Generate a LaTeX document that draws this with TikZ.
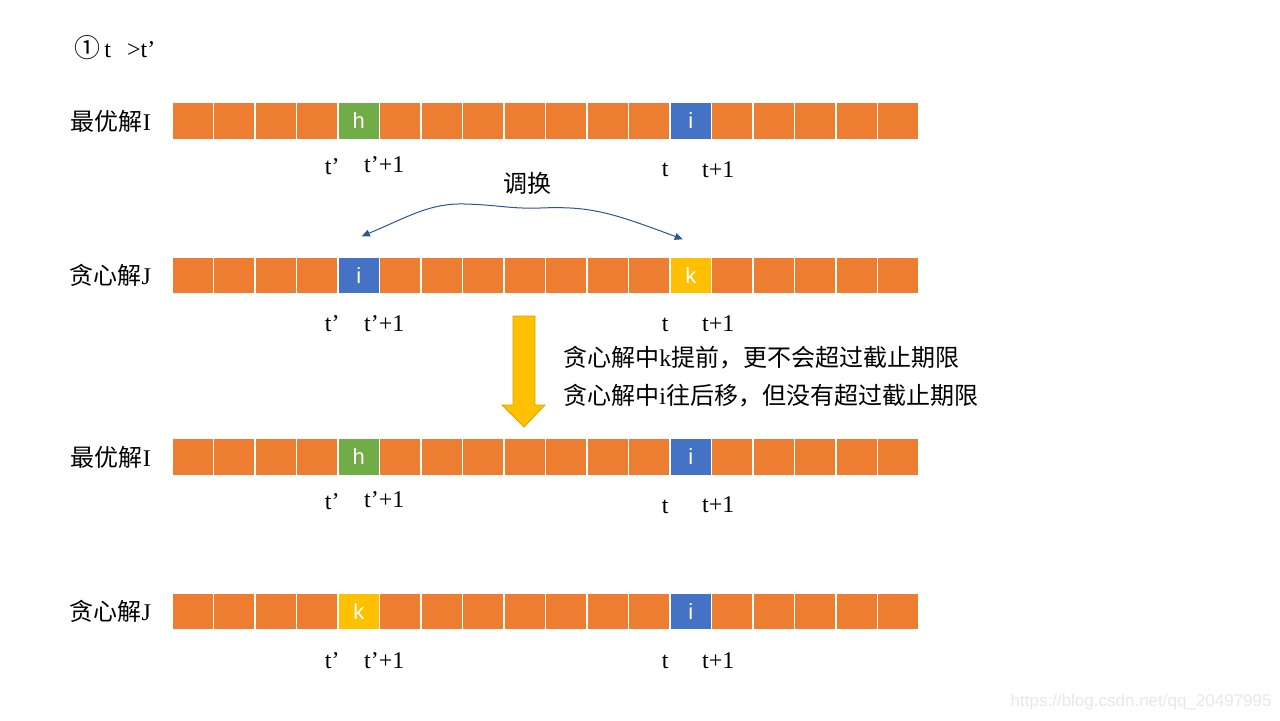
\documentclass[tikz,border=0pt]{standalone}
\usepackage{fontspec}
\setmainfont{Liberation Serif}
\newfontfamily\cjk{Noto Sans CJK SC}
\newfontfamily\cellfont{Liberation Sans}
\usetikzlibrary{arrows.meta, positioning}
\definecolor{slotorange}{RGB}{237, 125, 49}
\definecolor{slotgreen}{RGB}{112, 173, 71}
\definecolor{slotblue}{RGB}{68, 114, 196}
\definecolor{slotgold}{RGB}{255, 192, 0}
\definecolor{swapblue}{RGB}{47, 85, 151}

% one row of 18 slots: name, y, fill and text at t', fill and text at t
\newcommand{\slotrow}[6]{%
  \foreach \c in {0,...,17}{
    \ifnum\c=4 \def\slotfill{#3}\def\slottext{#4}%
    \else\ifnum\c=12 \def\slotfill{#5}\def\slottext{#6}%
    \else\def\slotfill{slotorange}\def\slottext{}\fi\fi
    \node[cell, fill=\slotfill] (#1-\c) at ({192.75+41.5*\c}, #2) {\slottext};
  }%
}

\begin{document}
\begin{tikzpicture}[
  x=0.5pt, y=-0.5pt,
  font=\fontsize{12}{14}\selectfont,
  cell/.style={draw=white, line width=0.75pt, minimum width=20.75pt, minimum height=18.5pt,
    inner sep=0, text=white, font=\cellfont\fontsize{11}{11}\selectfont},
  rowname/.style={inner sep=0},
  tick/.style={inner sep=0},
  note/.style={inner sep=0, anchor=west},
  swaparrow/.style={draw=swapblue, line width=0.5pt, {Triangle[length=4pt, width=3.5pt]}-{Triangle[length=4pt, width=3.5pt]}},
  blockarrow/.style={fill=slotgold, draw=slotgold!85!black, line width=0.4pt},
]
  \fill[white] (0,0) rectangle (1280,720);
  \useasboundingbox (0,0) rectangle (1280,720);

  \node[anchor=west, inner sep=0] (title) at (74,48) {{\cjk\fontsize{13}{14}\selectfont ①}\,t\enspace\,>t’};

  % the four schedules
  \slotrow{r1}{121}{slotgreen}{h}{slotblue}{i}
  \slotrow{r2}{275.5}{slotblue}{i}{slotgold}{k}
  \slotrow{r3}{457}{slotgreen}{h}{slotblue}{i}
  \slotrow{r4}{611.5}{slotgold}{k}{slotblue}{i}

  \node[rowname, left=10pt of r1-0] (r1name) {{\cjk 最优解}I};
  \node[rowname, left=10pt of r2-0] (r2name) {{\cjk 贪心解}J};
  \node[rowname, left=10pt of r3-0] (r3name) {{\cjk 最优解}I};
  \node[rowname, left=10pt of r4-0] (r4name) {{\cjk 贪心解}J};

  % time labels
  \node[tick] (r1-tp)  at ([shift={(-5,26)}]r1-4.south west)  {t’};
  \node[tick] (r1-tp1) at ([shift={(4,24)}]r1-4.south east)   {t’+1};
  \node[tick] (r1-t)   at ([shift={(-4,30)}]r1-12.south west) {t};
  \node[tick] (r1-t1)  at ([shift={(6,29)}]r1-12.south east)  {t+1};
  \node[tick] (r2-tp)  at ([shift={(-5,29)}]r2-4.south west)  {t’};
  \node[tick] (r2-tp1) at ([shift={(4,29)}]r2-4.south east)   {t’+1};
  \node[tick] (r2-t)   at ([shift={(-4,30)}]r2-12.south west) {t};
  \node[tick] (r2-t1)  at ([shift={(6,29)}]r2-12.south east)  {t+1};
  \node[tick] (r3-tp)  at ([shift={(-5,25)}]r3-4.south west)  {t’};
  \node[tick] (r3-tp1) at ([shift={(4,23)}]r3-4.south east)   {t’+1};
  \node[tick] (r3-t)   at ([shift={(-4,31)}]r3-12.south west) {t};
  \node[tick] (r3-t1)  at ([shift={(6,28)}]r3-12.south east)  {t+1};
  \node[tick] (r4-tp)  at ([shift={(-5,30)}]r4-4.south west)  {t’};
  \node[tick] (r4-tp1) at ([shift={(4,30)}]r4-4.south east)   {t’+1};
  \node[tick] (r4-t)   at ([shift={(-4,31)}]r4-12.south west) {t};
  \node[tick] (r4-t1)  at ([shift={(6,30)}]r4-12.south east)  {t+1};

  % swap between the two rows
  \coordinate (swapL) at ([shift={(3,-20)}]r2-4.north);
  \coordinate (swapR) at ([shift={(-8,-17)}]r2-12.north);
  \node[inner sep=0] (swaplabel) at (527,183) {\cjk 调换};
  \draw[swaparrow] (swapL) .. controls (410,216) and (430,203) .. (465,204)
    .. controls (500,205) and (510,209) .. (540,208)
    .. controls (590,206) and (610,212) .. (swapR);

  % block arrow down
  \draw[blockarrow] (513,316) -- (535,316) -- (535,405) -- (545,405) -- (524,427)
    -- (502,405) -- (513,405) -- cycle;
  \node[note] (note1) at (563,358) {{\cjk 贪心解中}k{\cjk 提前，更不会超过截止期限}};
  \node[note] (note2) at (563,396) {{\cjk 贪心解中}i{\cjk 往后移，但没有超过截止期限}};

  \node[anchor=east, inner sep=0, text=black!9, font=\cellfont\fontsize{8.5}{9}\selectfont]
    (mark) at (1272,702) {https://blog.csdn.net/qq\_20497995};
\end{tikzpicture}
\end{document}
